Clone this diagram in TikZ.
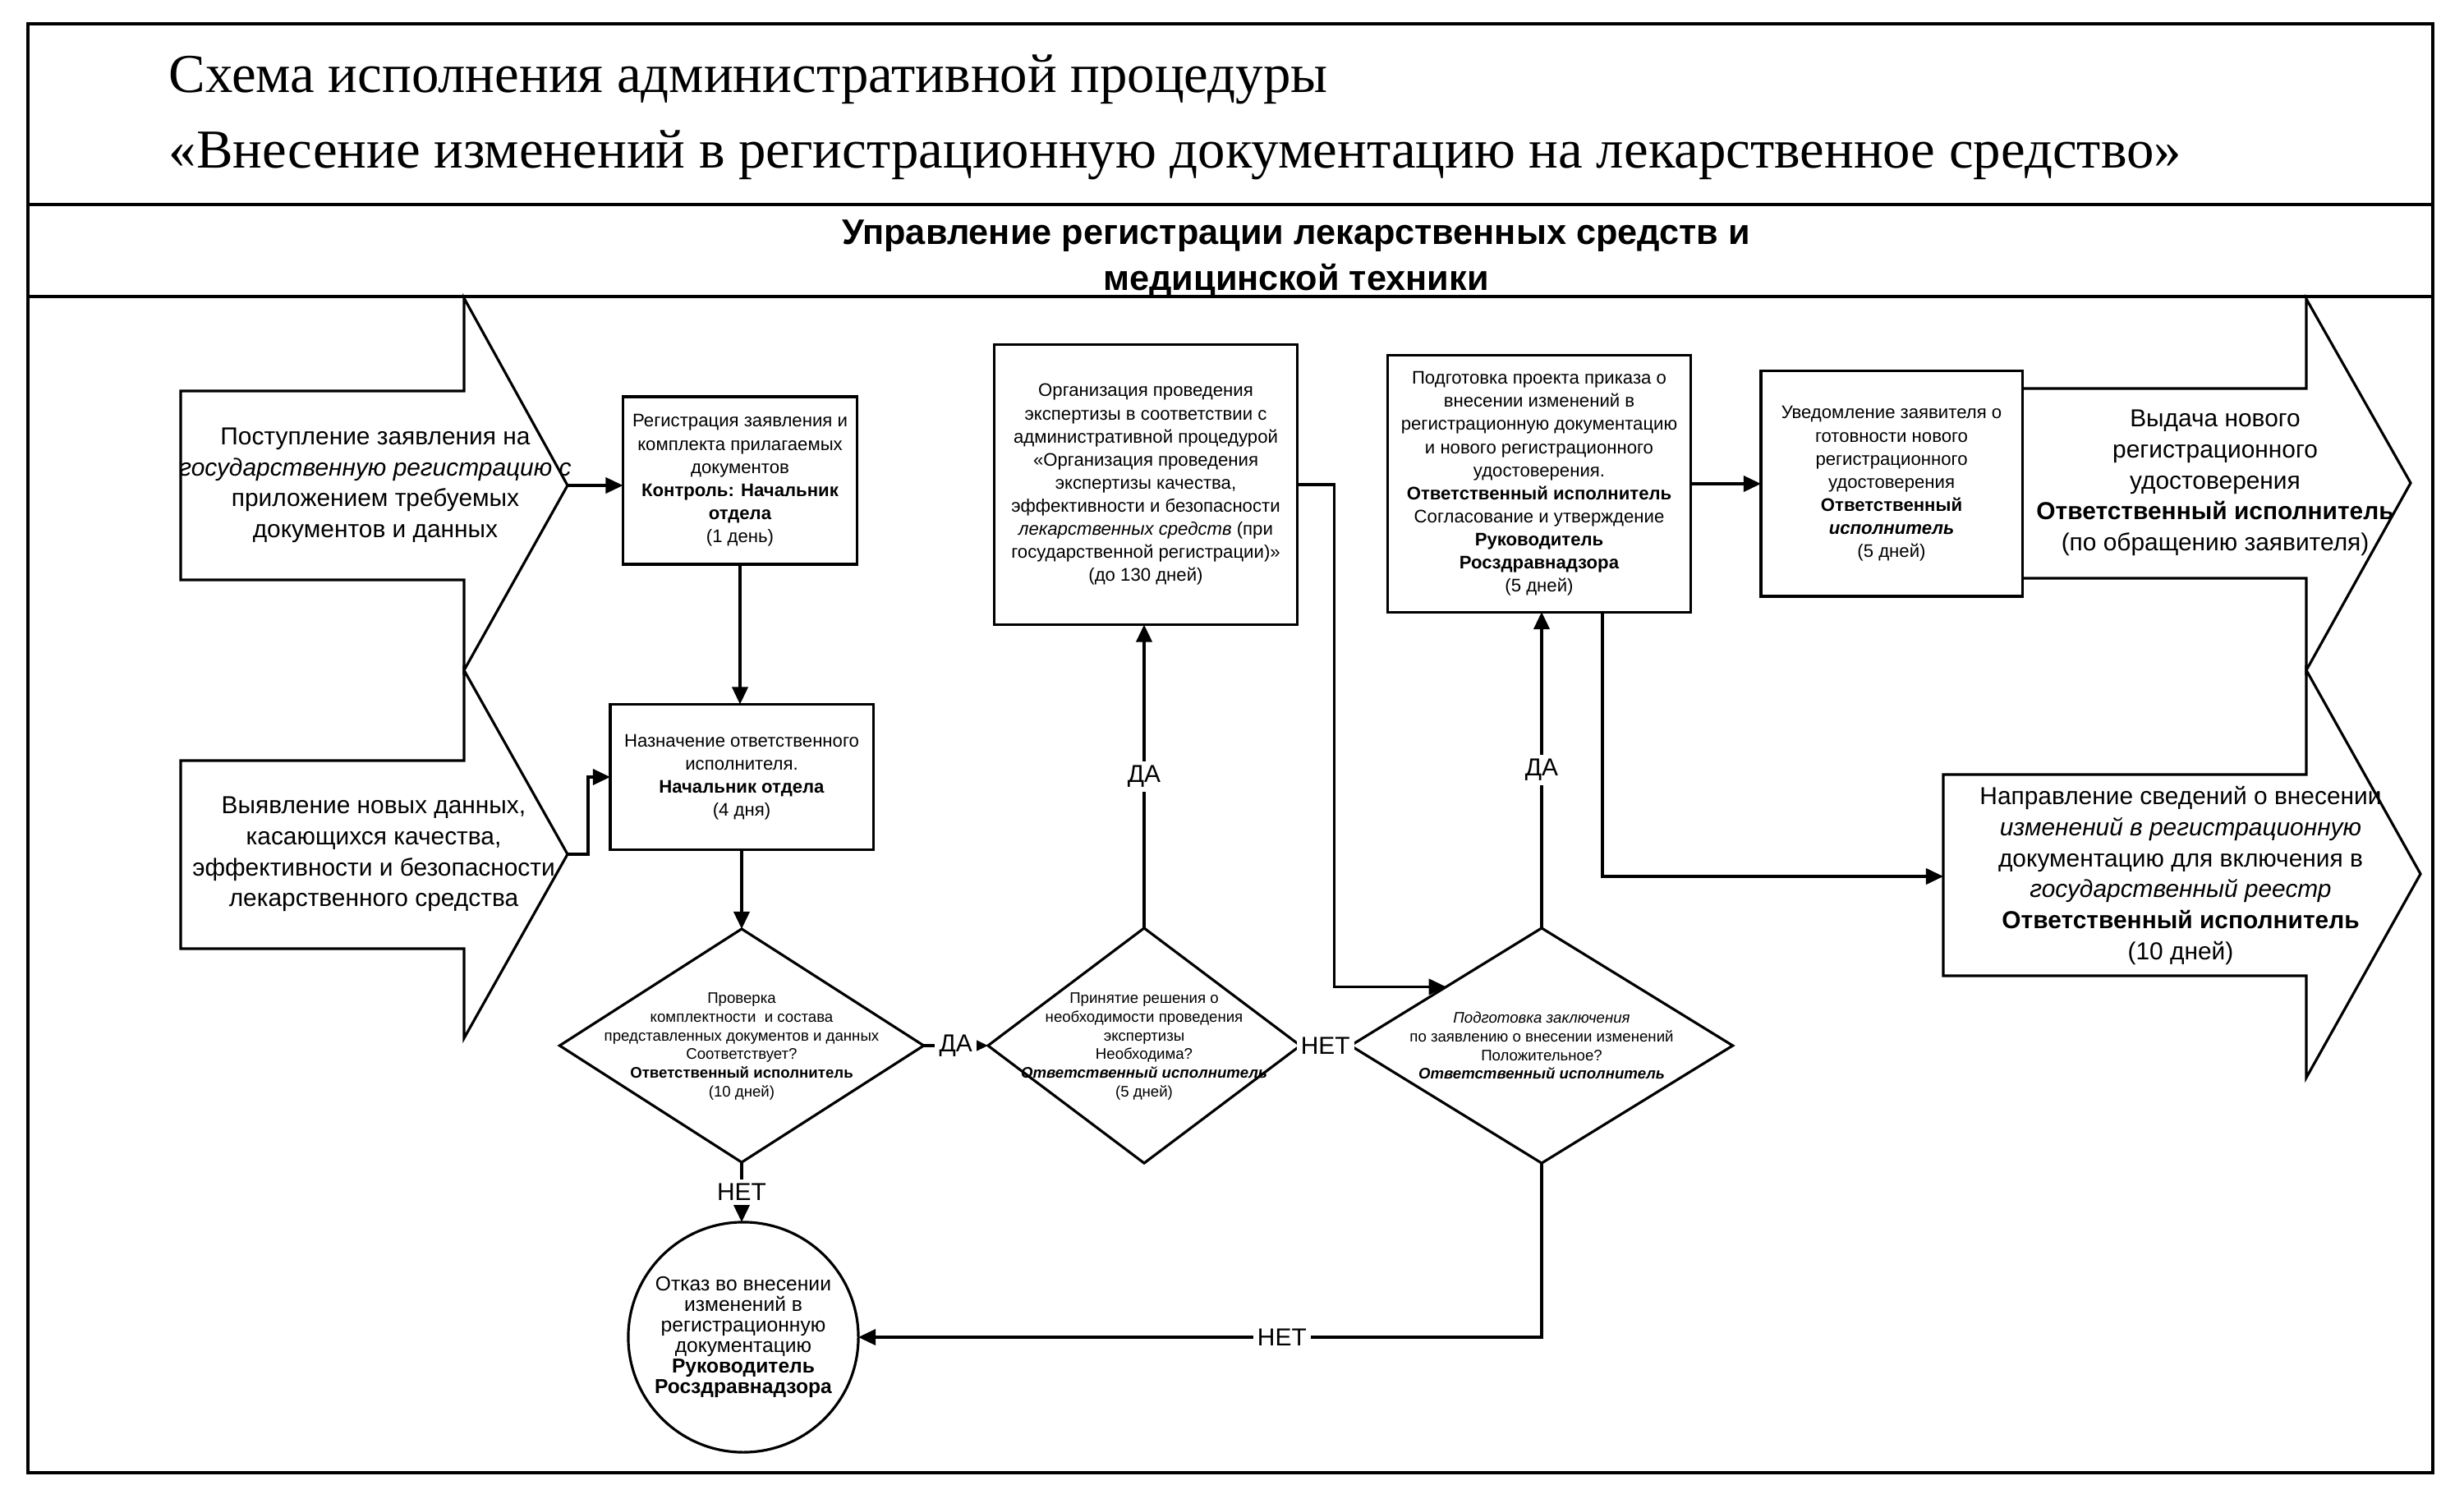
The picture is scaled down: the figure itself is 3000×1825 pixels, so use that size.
\documentclass[tikz,border=0pt]{standalone}
\usepackage{fontspec}
\setmainfont{Liberation Sans}
\newfontfamily\titlefont{Liberation Serif}
\usetikzlibrary{arrows.meta,shapes.geometric}
\begin{document}
\begin{tikzpicture}[x=0.01cm,y=-0.01cm,
  ln/.style={line width=0.9pt},
  arr/.style={ln,-{Triangle[length=6pt,width=5.5pt]}},
  box/.style={draw,ln,rectangle,align=center,inner sep=0pt,outer sep=0pt,font=\fontsize{6.3}{8}\selectfont},
  dia/.style={draw,ln,diamond,inner sep=0pt,outer sep=0pt},
  dtext/.style={align=center,inner sep=0pt,font=\fontsize{5.3}{6.5}\selectfont},
  big/.style={draw,ln,line join=miter},
  bigtext/.style={align=center,inner sep=0pt,font=\fontsize{8.5}{10.7}\selectfont},
  lab/.style={fill=white,inner sep=1.5pt,font=\fontsize{8.5}{10}\selectfont},
  circ/.style={draw,ln,circle,align=center,inner sep=0pt,outer sep=0pt,minimum size=2.8cm,font=\fontsize{7}{7.1}\selectfont}]
\useasboundingbox (0,0) rectangle (3000,1825);
% frame
\draw[line width=1.2pt] (34,29) rectangle (2962,1793);
\draw[line width=1.4pt] (34,249) -- (2962,249);
\draw[line width=1.4pt] (34,361) -- (2962,361);
% titles
\node[anchor=base west,inner sep=0pt,font=\titlefont\fontsize{19}{23}\selectfont] (t1) at (205,113) {Схема исполнения административной процедуры};
\node[anchor=base west,inner sep=0pt,font=\titlefont\fontsize{19}{23}\selectfont] (t2) at (205,205) {«Внесение изменений в регистрационную документацию на лекарственное средство»};
\node[anchor=base,inner sep=0pt,font=\bfseries\fontsize{12.3}{15}\selectfont] (s1) at (1578,298) {Управление регистрации лекарственных средств и};
\node[anchor=base,inner sep=0pt,font=\bfseries\fontsize{12.3}{15}\selectfont] (s2) at (1578,354) {медицинской техники};
% left big arrows
\coordinate (L1tip) at (691,591);
\coordinate (L2tip) at (691,1040);
\draw[big] (220,476) -- (565,476) -- (565,363) -- (L1tip) -- (565,816) -- (565,706) -- (220,706) -- cycle;
\draw[big] (220,926) -- (565,926) -- (565,816) -- (L2tip) -- (565,1264) -- (565,1155) -- (220,1155) -- cycle;
\node[bigtext] (L1t) at (457,591) {Поступление заявления на\\\textit{государственную регистрацию с}\\приложением требуемых\\документов и данных};
\node[bigtext] (L2t) at (455,1040) {Выявление новых данных,\\касающихся качества,\\эффективности и безопасности\\лекарственного средства};
% boxes
\node[box,minimum width=2.85cm,minimum height=2.04cm] (A) at (901,585) {Регистрация заявления и\\комплекта прилагаемых\\документов\\\textbf{Контроль: Начальник}\\\textbf{отдела}\\(1 день)};
\node[box,minimum width=3.2cm,minimum height=1.77cm] (B) at (903,946) {Назначение ответственного\\исполнителя.\\\textbf{Начальник отдела}\\(4 дня)};
\node[box,minimum width=3.68cm,minimum height=3.41cm] (C) at (1395,590) {Организация проведения\\экспертизы в соответствии с\\административной процедурой\\«Организация проведения\\экспертизы качества,\\эффективности и безопасности\\\textit{лекарственных средств} (при\\государственной регистрации)»\\(до 130 дней)};
\node[box,minimum width=3.69cm,minimum height=3.12cm] (D) at (1874,589) {Подготовка проекта приказа о\\внесении изменений в\\регистрационную документацию\\и нового регистрационного\\удостоверения.\\\textbf{Ответственный исполнитель}\\Согласование и утверждение\\\textbf{Руководитель}\\\textbf{Росздравнадзора}\\(5 дней)};
\node[box,minimum width=3.18cm,minimum height=2.74cm] (E) at (2303,589) {Уведомление заявителя о\\готовности нового\\регистрационного\\удостоверения\\\textbf{Ответственный}\\\textbf{\textit{исполнитель}}\\(5 дней)};
% right big arrows
\coordinate (R1tip) at (2935,588);
\coordinate (R2tip) at (2947,1064);
\coordinate (R2in) at (2366,1067);
\draw[big] (2462,473) -- (2808,473) -- (2808,364) -- (R1tip) -- (2808,816) -- (2808,704) -- (2462,704);
\draw[big] (2366,943) -- (2808,943) -- (2808,816) -- (R2tip) -- (2808,1312) -- (2808,1188) -- (2366,1188) -- cycle;
\node[bigtext] (R1t) at (2697,588) {Выдача нового\\регистрационного\\удостоверения\\\textbf{Ответственный исполнитель}\\(по обращению заявителя)};
\node[bigtext] (R2t) at (2655,1066) {Направление сведений о внесении\\\textit{изменений в регистрационную}\\документацию для включения в\\\textit{государственный реестр}\\\textbf{Ответственный исполнитель}\\(10 дней)};
% diamonds
\node[dia,minimum width=4.43cm,minimum height=2.84cm] (D1) at (903,1273) {};
\node[dtext] (D1t) at (903,1274) {Проверка\\комплектности\ \ и состава\\представленных документов и данных\\Соответствует?\\\textbf{Ответственный исполнитель}\\(10 дней)};
\node[dia,minimum width=3.8cm,minimum height=2.86cm] (D2) at (1393,1273) {};
\node[dtext] (D2t) at (1393,1274) {Принятие решения о\\необходимости проведения\\экспертизы\\Необходима?\\\textbf{\textit{Ответственный исполнитель}}\\(5 дней)};
\node[dia,minimum width=4.65cm,minimum height=2.86cm] (D3) at (1877,1273) {};
\node[dtext] (D3t) at (1877,1273) {\textit{Подготовка заключения}\\по заявлению о внесении изменений\\Положительное?\\\textbf{\textit{Ответственный исполнитель}}};
% circle
\node[circ] (R) at (905,1628) {Отказ во внесении\\изменений в\\регистрационную\\документацию\\\textbf{Руководитель}\\\textbf{Росздравнадзора}};
% connectors
\draw[arr] (L1tip) -- (L1tip -| A.west);
\coordinate (L2j) at (716,1040);
\draw[arr] (L2tip) -- (L2j) |- (B.west);
\draw[arr] (A.south) -- (A.south |- B.north);
\draw[arr] (B.south) -- (D1.north);
\draw[arr] (D1.east) -- node[lab]{ДА} (D2.west);
\draw[arr] (D2.north) -- node[lab]{ДА} (D2.north |- C.south);
\draw[arr] (C.east) -- ++(45,0) |- (D3.north west);
\draw[arr] (D3.north) -- node[lab]{ДА} (D3.north |- D.south);
\draw[arr] (D.east) -- (D.east -| E.west);
\coordinate (Dj) at (1951,745);
\draw[arr] (Dj) |- (R2in);
\draw[ln] (D2.east) -- node[lab]{НЕТ} (D3.west);
\draw[arr] (D3.south) |- node[lab,pos=0.69]{НЕТ} (R.east);
\draw[arr] (D1.south) -- node[lab]{НЕТ} (D1.south |- R.north);
\end{tikzpicture}
\end{document}
